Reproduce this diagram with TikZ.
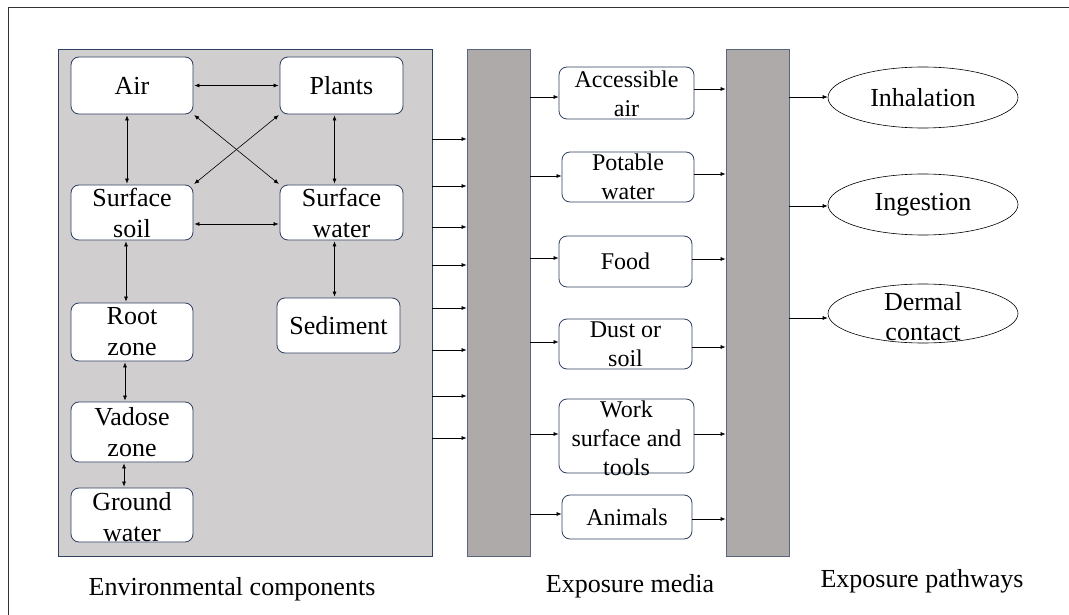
\documentclass[tikz,border=0pt]{standalone}
\usepackage{fontspec}
\setmainfont{Liberation Serif}
\usetikzlibrary{arrows.meta,shapes.geometric}
\definecolor{envfill}{HTML}{D0CECE}
\definecolor{barfill}{HTML}{AEAAAA}
\definecolor{edgeblue}{HTML}{2F4060}
\begin{document}
\begin{tikzpicture}[x=1pt,y=-1pt,
  envbg/.style={draw=edgeblue,line width=0.8pt,fill=envfill,minimum width=374pt,minimum height=507pt,inner sep=0pt},
  bar/.style={draw=edgeblue!80,line width=0.8pt,fill=barfill,minimum width=63pt,minimum height=507pt,inner sep=0pt},
  rbox/.style={draw=edgeblue,line width=0.8pt,fill=white,rounded corners=8pt,inner sep=0pt},
  etxt/.style={font=\fontsize{26}{31}\selectfont,align=center,inner sep=0pt},
  mtxt/.style={font=\fontsize{24}{29}\selectfont,align=center,inner sep=0pt},
  ell/.style={draw=black,line width=0.6pt,ellipse,fill=white,minimum width=190pt,minimum height=61pt,inner sep=0pt},
  captxt/.style={font=\fontsize{26}{31}\selectfont,inner sep=0pt,anchor=base},
  arr/.style={-{Latex[length=5pt,width=4pt]},line width=0.6pt,black},
  darr/.style={{Latex[length=5pt,width=4pt]}-{Latex[length=5pt,width=4pt]},line width=0.6pt,black,shorten <=1pt,shorten >=1pt}
]
\useasboundingbox (0,0) rectangle (1069,615);
\draw[line width=1pt,black!80] (8,615) -- (8,8) -- (1069,8);

% environmental components
\node[envbg] (env) at (245,302.5) {};
\node[rbox,minimum width=122pt,minimum height=57pt] (air) at (132,85.5) {};
\node[etxt] (airT) at (air) {Air};
\node[rbox,minimum width=123pt,minimum height=57pt] (plants) at (341.5,85.5) {};
\node[etxt] (plantsT) at (plants) {Plants};
\node[rbox,minimum width=122pt,minimum height=55pt] (ssoil) at (132,212.5) {};
\node[etxt] (ssoilT) at (ssoil) {Surface\\soil};
\node[rbox,minimum width=123pt,minimum height=55pt] (swater) at (341.5,212.5) {};
\node[etxt] (swaterT) at (swater) {Surface\\water};
\node[rbox,minimum width=122pt,minimum height=58pt] (root) at (132,332) {};
\node[etxt] (rootT) at (root) {Root\\zone};
\node[rbox,minimum width=123pt,minimum height=55pt] (sed) at (338.5,325.5) {};
\node[etxt] (sedT) at (sed) {Sediment};
\node[rbox,minimum width=122pt,minimum height=60pt] (vad) at (132,432) {};
\node[etxt] (vadT) at (vad) {Vadose\\zone};
\node[rbox,minimum width=122pt,minimum height=54pt] (gw) at (132,515) {};
\node[etxt] (gwT) at ([yshift=-2pt]gw.center) {Ground\\water};

\draw[darr] (air.east) -- (plants.west);
\draw[darr] ([xshift=-5pt]air.south) -- ([xshift=-5pt]ssoil.north);
\draw[darr] ([xshift=-7pt]plants.south) -- ([xshift=-7pt]swater.north);
\draw[darr] (air.south east) -- (swater.north west);
\draw[darr] (plants.south west) -- (ssoil.north east);
\draw[darr] ([yshift=-11.5pt]ssoil.east) -- ([yshift=-11.5pt]swater.west);
\draw[darr] ([xshift=-6pt]ssoil.south) -- ([xshift=-6pt]root.north);
\draw[darr] ([xshift=-7pt]swater.south) -- ([xshift=-4pt]sed.north);
\draw[darr] ([xshift=-7pt]root.south) -- ([xshift=-7pt]vad.north);
\draw[darr] ([xshift=-8pt]vad.south) -- ([xshift=-8pt]gw.north);

% bars
\node[bar] (bar1) at (498.5,302.5) {};
\node[bar] (bar2) at (757.5,302.5) {};
\foreach \yy in {139,186,227,265,308,350,396,438}
  \draw[arr] (env.east |- 0,\yy) -- (bar1.west |- 0,\yy);

% exposure media
\node[rbox,minimum width=135pt,minimum height=52pt] (acc) at (626.5,93) {};
\node[mtxt] (accT) at ([yshift=-1pt]acc.center) {Accessible\\air};
\node[rbox,minimum width=132pt,minimum height=50pt] (pot) at (628,177) {};
\node[mtxt] (potT) at (pot) {Potable\\water};
\node[rbox,minimum width=133pt,minimum height=51pt] (food) at (625.5,261.5) {};
\node[mtxt] (foodT) at (food) {Food};
\node[rbox,minimum width=133pt,minimum height=50pt] (dust) at (625.5,344) {};
\node[mtxt] (dustT) at (dust) {Dust or\\soil};
\node[rbox,minimum width=135pt,minimum height=74pt] (work) at (626.5,436) {};
\node[mtxt] (workT) at ([yshift=-2pt]work.center) {Work\\surface and\\tools};
\node[rbox,minimum width=130pt,minimum height=44pt] (anim) at (627,517) {};
\node[mtxt] (animT) at (anim) {Animals};

\draw[arr] (bar1.east |- 0,97) -- (acc.west |- 0,97);
\draw[arr] (bar1.east |- 0,176) -- (pot.west |- 0,176);
\draw[arr] (bar1.east |- 0,258) -- (food.west |- 0,258);
\draw[arr] (bar1.east |- 0,342) -- (dust.west |- 0,342);
\draw[arr] (bar1.east |- 0,434) -- (work.west |- 0,434);
\draw[arr] (bar1.east |- 0,514) -- (anim.west |- 0,514);

\draw[arr] (acc.east |- 0,89) -- (bar2.west |- 0,89);
\draw[arr] (pot.east |- 0,174) -- (bar2.west |- 0,174);
\draw[arr] (food.east |- 0,259) -- (bar2.west |- 0,259);
\draw[arr] (dust.east |- 0,347) -- (bar2.west |- 0,347);
\draw[arr] (work.east |- 0,434) -- (bar2.west |- 0,434);
\draw[arr] (anim.east |- 0,519) -- (bar2.west |- 0,519);

% exposure pathways
\node[ell] (inh) at (923,97.5) {};
\node[etxt] (inhT) at (inh) {Inhalation};
\node[ell] (ing) at (923,204.5) {};
\node[etxt] (ingT) at (ing) {Ingestion};
\node[ell,minimum height=59pt] (derm) at (923,313.5) {};
\node[etxt,font=\fontsize{26}{30}\selectfont] (dermT) at ([yshift=-3pt]derm.center) {Dermal\\contact};

\draw[arr] (bar2.east |- 0,97) -- (inh.west |- 0,97);
\draw[arr] (bar2.east |- 0,206) -- (ing.west |- 0,206);
\draw[arr] (bar2.east |- 0,318) -- (derm.west |- 0,318);

% captions
\node[captxt] (capEnv) at (232,595) {Environmental components};
\node[captxt] (capMed) at (630,592) {Exposure media};
\node[captxt] (capPath) at (922,587) {Exposure pathways};
\end{tikzpicture}
\end{document}
